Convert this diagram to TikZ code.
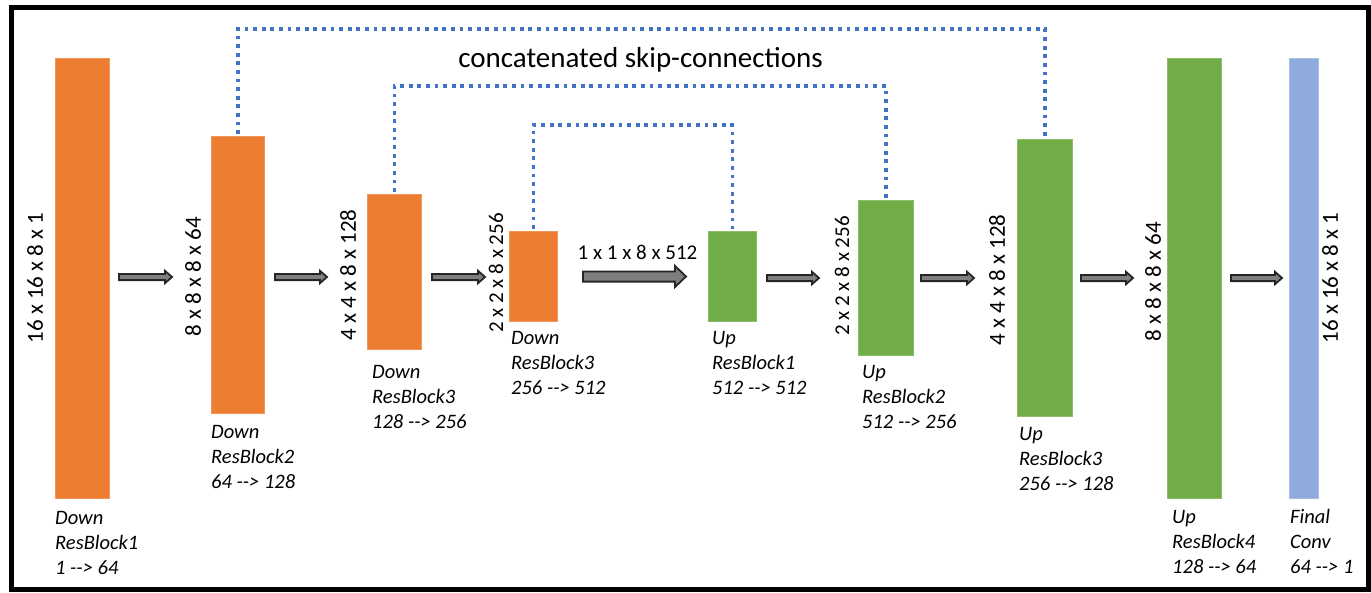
\documentclass[tikz,border=0pt]{standalone}
\usepackage{fontspec}
\setmainfont{Carlito}[Ligatures=TeXOff]

\definecolor{blockorange}{HTML}{ED7D31}
\definecolor{blockgreen}{HTML}{70AD47}
\definecolor{blockblue}{HTML}{8FAADC}
\definecolor{skipblue}{HTML}{4472C4}
\definecolor{arrowfill}{HTML}{7F7F7F}
\definecolor{arrowline}{HTML}{262626}

% three-line caption under a block, first baseline at the node's base
\newcommand{\blocktext}[3]{\begin{tabular}[t]{@{}l@{}}#1\\#2\\#3\end{tabular}}

% horizontal block arrow: #1 tail coordinate, #2 length, #3 half shaft,
% #4 half head width, #5 head length
\newcommand{\blockarrow}[5]{%
  \filldraw[flowarrow] (#1) ++(0,-#3) -- ++({#2-#5},0) -- ++(0,{#3-#4})
    -- ++(#5,#4) -- ++(-#5,#4) -- ++(0,{#3-#4}) -- ++({#5-#2},0) -- cycle;}

\begin{document}
\begin{tikzpicture}[x=1pt,y=-1pt,
  block/.style={draw=#1!80!white, line width=0.6pt, fill=#1, inner sep=0pt, anchor=north west},
  dimtext/.style={inner sep=0pt, font=\fontsize{23}{28}\selectfont},
  dimsmall/.style={inner sep=0pt, font=\fontsize{21}{25}\selectfont},
  blocklabel/.style={inner sep=0pt, anchor=base west, font=\fontsize{20.5}{25}\selectfont\itshape},
  flowarrow/.style={draw=arrowline, fill=arrowfill, line width=1.8pt, line join=miter},
  skip/.style={draw=skipblue, line width=3.6pt, dash pattern=on 3.8pt off 4.8pt,
    shorten <=2pt, shorten >=2pt}]

\useasboundingbox (0,0) rectangle (1371,592);
\draw[black, line width=5pt] (11.5,7.5) rectangle (1368.5,589);

% encoder / decoder blocks
\node[block=blockorange, minimum width=54pt, minimum height=440pt] (r1) at (55,58) {};
\node[block=blockorange, minimum width=53pt, minimum height=277pt] (r2) at (211,136) {};
\node[block=blockorange, minimum width=54pt, minimum height=155pt] (r3) at (367,194) {};
\node[block=blockorange, minimum width=48pt, minimum height=90pt] (r4) at (509,231) {};
\node[block=blockgreen, minimum width=48pt, minimum height=90pt] (r5) at (708,231) {};
\node[block=blockgreen, minimum width=55pt, minimum height=155pt] (r6) at (858,200) {};
\node[block=blockgreen, minimum width=55pt, minimum height=277pt] (r7) at (1017,139) {};
\node[block=blockgreen, minimum width=54pt, minimum height=440pt] (r8) at (1167,58) {};
\node[block=blockblue, minimum width=29pt, minimum height=440pt] (r9) at (1289,58) {};

% concatenated skip connections
\coordinate (t1) at (0,29);
\coordinate (t2) at (0,86);
\coordinate (t3) at (0,125);
\draw[skip] (r2.north) -- (r2.north |- t1) -- (r7.north |- t1) -- (r7.north);
\draw[skip] (r3.north) -- (r3.north |- t2) -- (r6.north |- t2) -- (r6.north);
\draw[skip] (r4.north) -- (r4.north |- t3) -- (r5.north |- t3) -- (r5.north);
\node[inner sep=0pt, anchor=base, font=\fontsize{29}{34}\selectfont] (title) at (640.5,67) {concatenated skip-connections};

% flow arrows between blocks
\coordinate (a1) at (119,277);
\coordinate (a2) at (275,277);
\coordinate (a3) at (432,277);
\coordinate (a4) at (583,276.5);
\coordinate (a5) at (767,278);
\coordinate (a6) at (921,278);
\coordinate (a7) at (1081,278);
\coordinate (a8) at (1231,278);
\blockarrow{a1}{53}{3.1}{6.2}{7}
\blockarrow{a2}{52}{3.1}{6.2}{7}
\blockarrow{a3}{53}{3.1}{6.2}{7}
\blockarrow{a4}{103}{5.1}{10.6}{11}
\blockarrow{a5}{52}{3.1}{6.2}{7}
\blockarrow{a6}{53}{3.1}{6.2}{7}
\blockarrow{a7}{52}{3.1}{6.2}{7}
\blockarrow{a8}{51}{3.1}{6.2}{7}

% tensor sizes
\node[dimtext, rotate=90] (d1) at (35,278) {16 x 16 x 8 x 1};
\node[dimtext, rotate=90] (d2) at (193,277) {8 x 8 x 8 x 64};
\node[dimtext, rotate=90] (d3) at (348,275) {4 x 4 x 8 x 128};
\node[dimsmall, rotate=90] (d4) at (496,273) {2 x 2 x 8 x 256};
\node[dimsmall] (d5) at (637.5,252.5) {1 x 1 x 8 x 512};
\node[dimsmall, rotate=90] (d6) at (842,276) {2 x 2 x 8 x 256};
\node[dimtext, rotate=90] (d7) at (997,280) {4 x 4 x 8 x 128};
\node[dimtext, rotate=90] (d8) at (1153,282) {8 x 8 x 8 x 64};
\node[dimtext, rotate=90] (d9) at (1330,278) {16 x 16 x 8 x 1};

% block captions
\node[blocklabel] (l1) at (55,524) {\blocktext{Down}{ResBlock1}{1 --> 64}};
\node[blocklabel] (l2) at (211,438) {\blocktext{Down}{ResBlock2}{64 --> 128}};
\node[blocklabel] (l3) at (372,378) {\blocktext{Down}{ResBlock3}{128 --> 256}};
\node[blocklabel] (l4) at (511,344) {\blocktext{Down}{ResBlock3}{256 --> 512}};
\node[blocklabel] (l5) at (712,344) {\blocktext{Up}{ResBlock1}{512 --> 512}};
\node[blocklabel] (l6) at (862,378) {\blocktext{Up}{ResBlock2}{512 --> 256}};
\node[blocklabel] (l7) at (1019,440) {\blocktext{Up}{ResBlock3}{256 --> 128}};
\node[blocklabel] (l8) at (1172,523) {\blocktext{Up}{ResBlock4}{128 --> 64}};
\node[blocklabel] (l9) at (1290,523) {\blocktext{Final}{Conv}{64 --> 1}};
\end{tikzpicture}
\end{document}
